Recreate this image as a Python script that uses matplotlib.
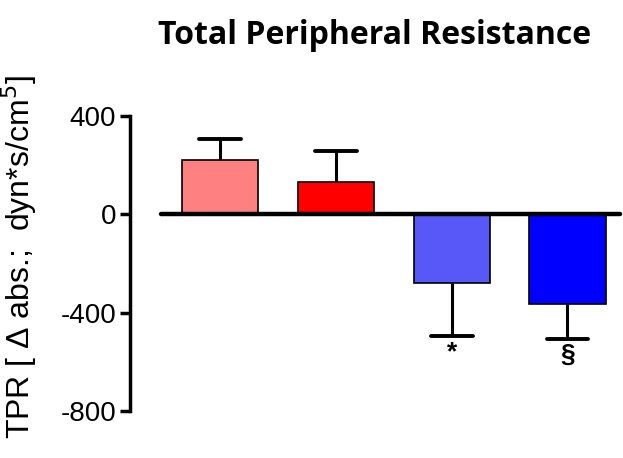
import numpy as np
import matplotlib
matplotlib.use('Agg')
import matplotlib.pyplot as plt

groups = ['G1', 'G2', 'G3', 'G4']
tpr_mean = [220, 130, -280, -365]
tpr_sem = [87, 126, 214, 141]
bar_colors = ['#ff8080', '#ff0000', '#5858f8', '#0000ff']
sig_marks = ['', '', '*', '§']

plt.rcParams['font.family'] = ['Liberation Sans', 'DejaVu Sans']

fig = plt.figure(figsize=(6.23, 4.58), dpi=100)
ax = fig.add_axes([130 / 623, (458 - 411) / 458, 493 / 623, 295 / 458])

x = np.arange(len(groups))
ax.bar(x, tpr_mean, width=0.66, color=bar_colors, edgecolor='black',
       linewidth=1.2, zorder=2)

# one-sided error bars pointing away from zero
for xi, m, e in zip(x, tpr_mean, tpr_sem):
    end = m + e if m > 0 else m - e
    ax.plot([xi, xi], [m, end], color='black', lw=2.2, zorder=1,
            solid_capstyle='butt')
    ax.plot([xi - 0.18, xi + 0.18], [end, end], color='black', lw=2.8,
            solid_capstyle='round', zorder=1)

for xi, m, e, s in zip(x, tpr_mean, tpr_sem, sig_marks):
    if s:
        ax.text(xi, m - e - 18, s, ha='center', va='top', fontsize=19,
                fontweight='bold')

ax.plot([-0.51, 3.45], [0, 0], color='black', lw=3.2, solid_capstyle='round',
        zorder=3)

ax.set_xlim(-0.78, 3.48)
ax.set_ylim(-800, 400)
ax.set_yticks([-800, -400, 0, 400])
ax.set_yticklabels(['-800', '-400', '0', '400'])
ax.tick_params(axis='y', labelsize=20, width=2.5, length=7, pad=3)
ax.set_xticks([])
for side in ['top', 'right', 'bottom']:
    ax.spines[side].set_visible(False)
ax.spines['left'].set_linewidth(2.5)
ax.spines['left'].set_bounds(-800, 400)

ax.set_ylabel('TPR [ Δ abs.;  dyn*s/cm$^5$]', fontsize=23)
ax.yaxis.set_label_coords(-0.184, 0.52)

fig.text(375 / 623, 1 - 35 / 458, 'Total Peripheral Resistance',
         ha='center', va='center', fontsize=23, fontweight='bold',
         family='Open Sans')

fig.savefig('out.png', dpi=100)
